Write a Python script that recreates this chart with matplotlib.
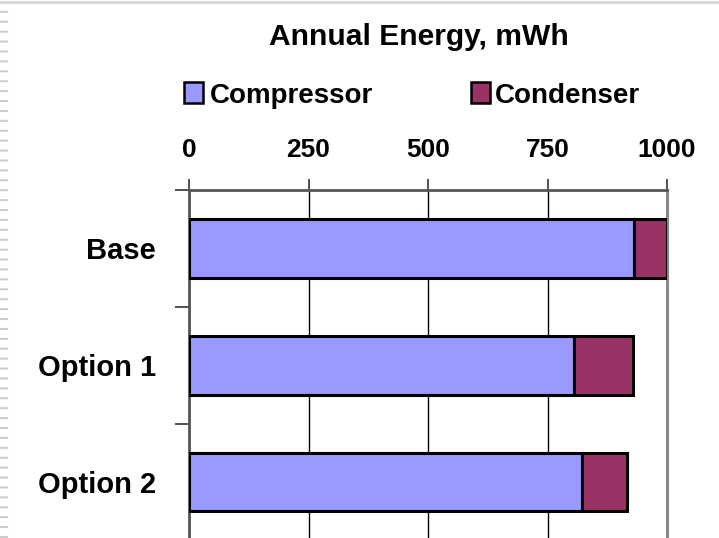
import matplotlib
matplotlib.use("Agg")
import matplotlib.pyplot as plt
from matplotlib.patches import Rectangle
from matplotlib.lines import Line2D

# Annual energy by configuration (mWh)
categories = ["Base", "Option 1", "Option 2"]
compressor = [932, 805, 822]
condenser = [68, 123, 94]
x_ticks = [0, 250, 500, 750, 1000]
series_names = ["Compressor", "Condenser"]

plt.rcParams["font.family"] = ["Liberation Sans", "DejaVu Sans"]
plt.rcParams["font.weight"] = "bold"

COMP_COLOR = "#9999FF"
COND_COLOR = "#993366"

W, H = 719, 538
fig = plt.figure(figsize=(W / 100, H / 100), dpi=100)
fig.patch.set_facecolor("white")


def fx(px):
    return px / W


def fy(py):
    return 1 - py / H


ax = fig.add_axes([fx(189), -0.005, fx(667) - fx(189), fy(190) + 0.005])

ypos = list(range(len(categories)))
ax.barh(ypos, compressor, height=0.5, color=COMP_COLOR,
        edgecolor="black", linewidth=2.2, zorder=3)
ax.barh(ypos, condenser, left=compressor, height=0.5, color=COND_COLOR,
        edgecolor="black", linewidth=2.2, zorder=3)

ax.set_xlim(0, 1000)
ax.set_ylim(2.5, -0.5)

# value axis across the top
ax.xaxis.tick_top()
ax.set_xticks(x_ticks)
ax.set_xticklabels([str(v) for v in x_ticks], fontsize=19, fontweight="bold")
ax.tick_params(axis="x", direction="out", length=8, width=1.2,
               color="#333333", pad=12)
ax.grid(axis="x", color="black", linewidth=1.0, zorder=1)

# category axis with ticks between categories
ax.set_yticks(ypos)
ax.set_yticklabels(categories, fontsize=21, fontweight="bold")
ax.tick_params(axis="y", which="major", length=0, pad=24)
ax.set_yticks([-0.5, 0.5, 1.5, 2.5], minor=True)
ax.tick_params(axis="y", which="minor", direction="out", length=10,
               width=1.2, color="#333333")

for side in ("top", "left"):
    ax.spines[side].set_color("#555555")
    ax.spines[side].set_linewidth(2)
ax.spines["right"].set_color("#888888")
ax.spines["right"].set_linewidth(2.2)
ax.spines["bottom"].set_visible(False)

# chart title
fig.text(fx(419), fy(45), "Annual Energy, mWh", ha="center",
         va="baseline", fontsize=21.6, fontweight="bold")

# legend row
legend_items = [(184, 210, COMP_COLOR), (471, 495, COND_COLOR)]
for name, (box_x, text_x, color) in zip(series_names, legend_items):
    fig.add_artist(Rectangle((fx(box_x), fy(103)), fx(19), 21 / H,
                             facecolor=color, edgecolor="black",
                             linewidth=1.8, transform=fig.transFigure))
    fig.text(fx(text_x), fy(103), name, ha="left", va="baseline",
             fontsize=20, fontweight="bold")

# page edge decorations
fig.add_artist(Line2D([0, 1], [fy(1.5)] * 2, color="#d8d8d8",
                      linewidth=2.2, transform=fig.transFigure))
fig.add_artist(Line2D([fx(4)] * 2, [0, fy(8)], color="#cccccc",
                      linewidth=5.8, dashes=(0.25, 0.98),
                      solid_capstyle="butt", dash_capstyle="butt",
                      transform=fig.transFigure))

fig.savefig("out.png", dpi=100, facecolor="white")
